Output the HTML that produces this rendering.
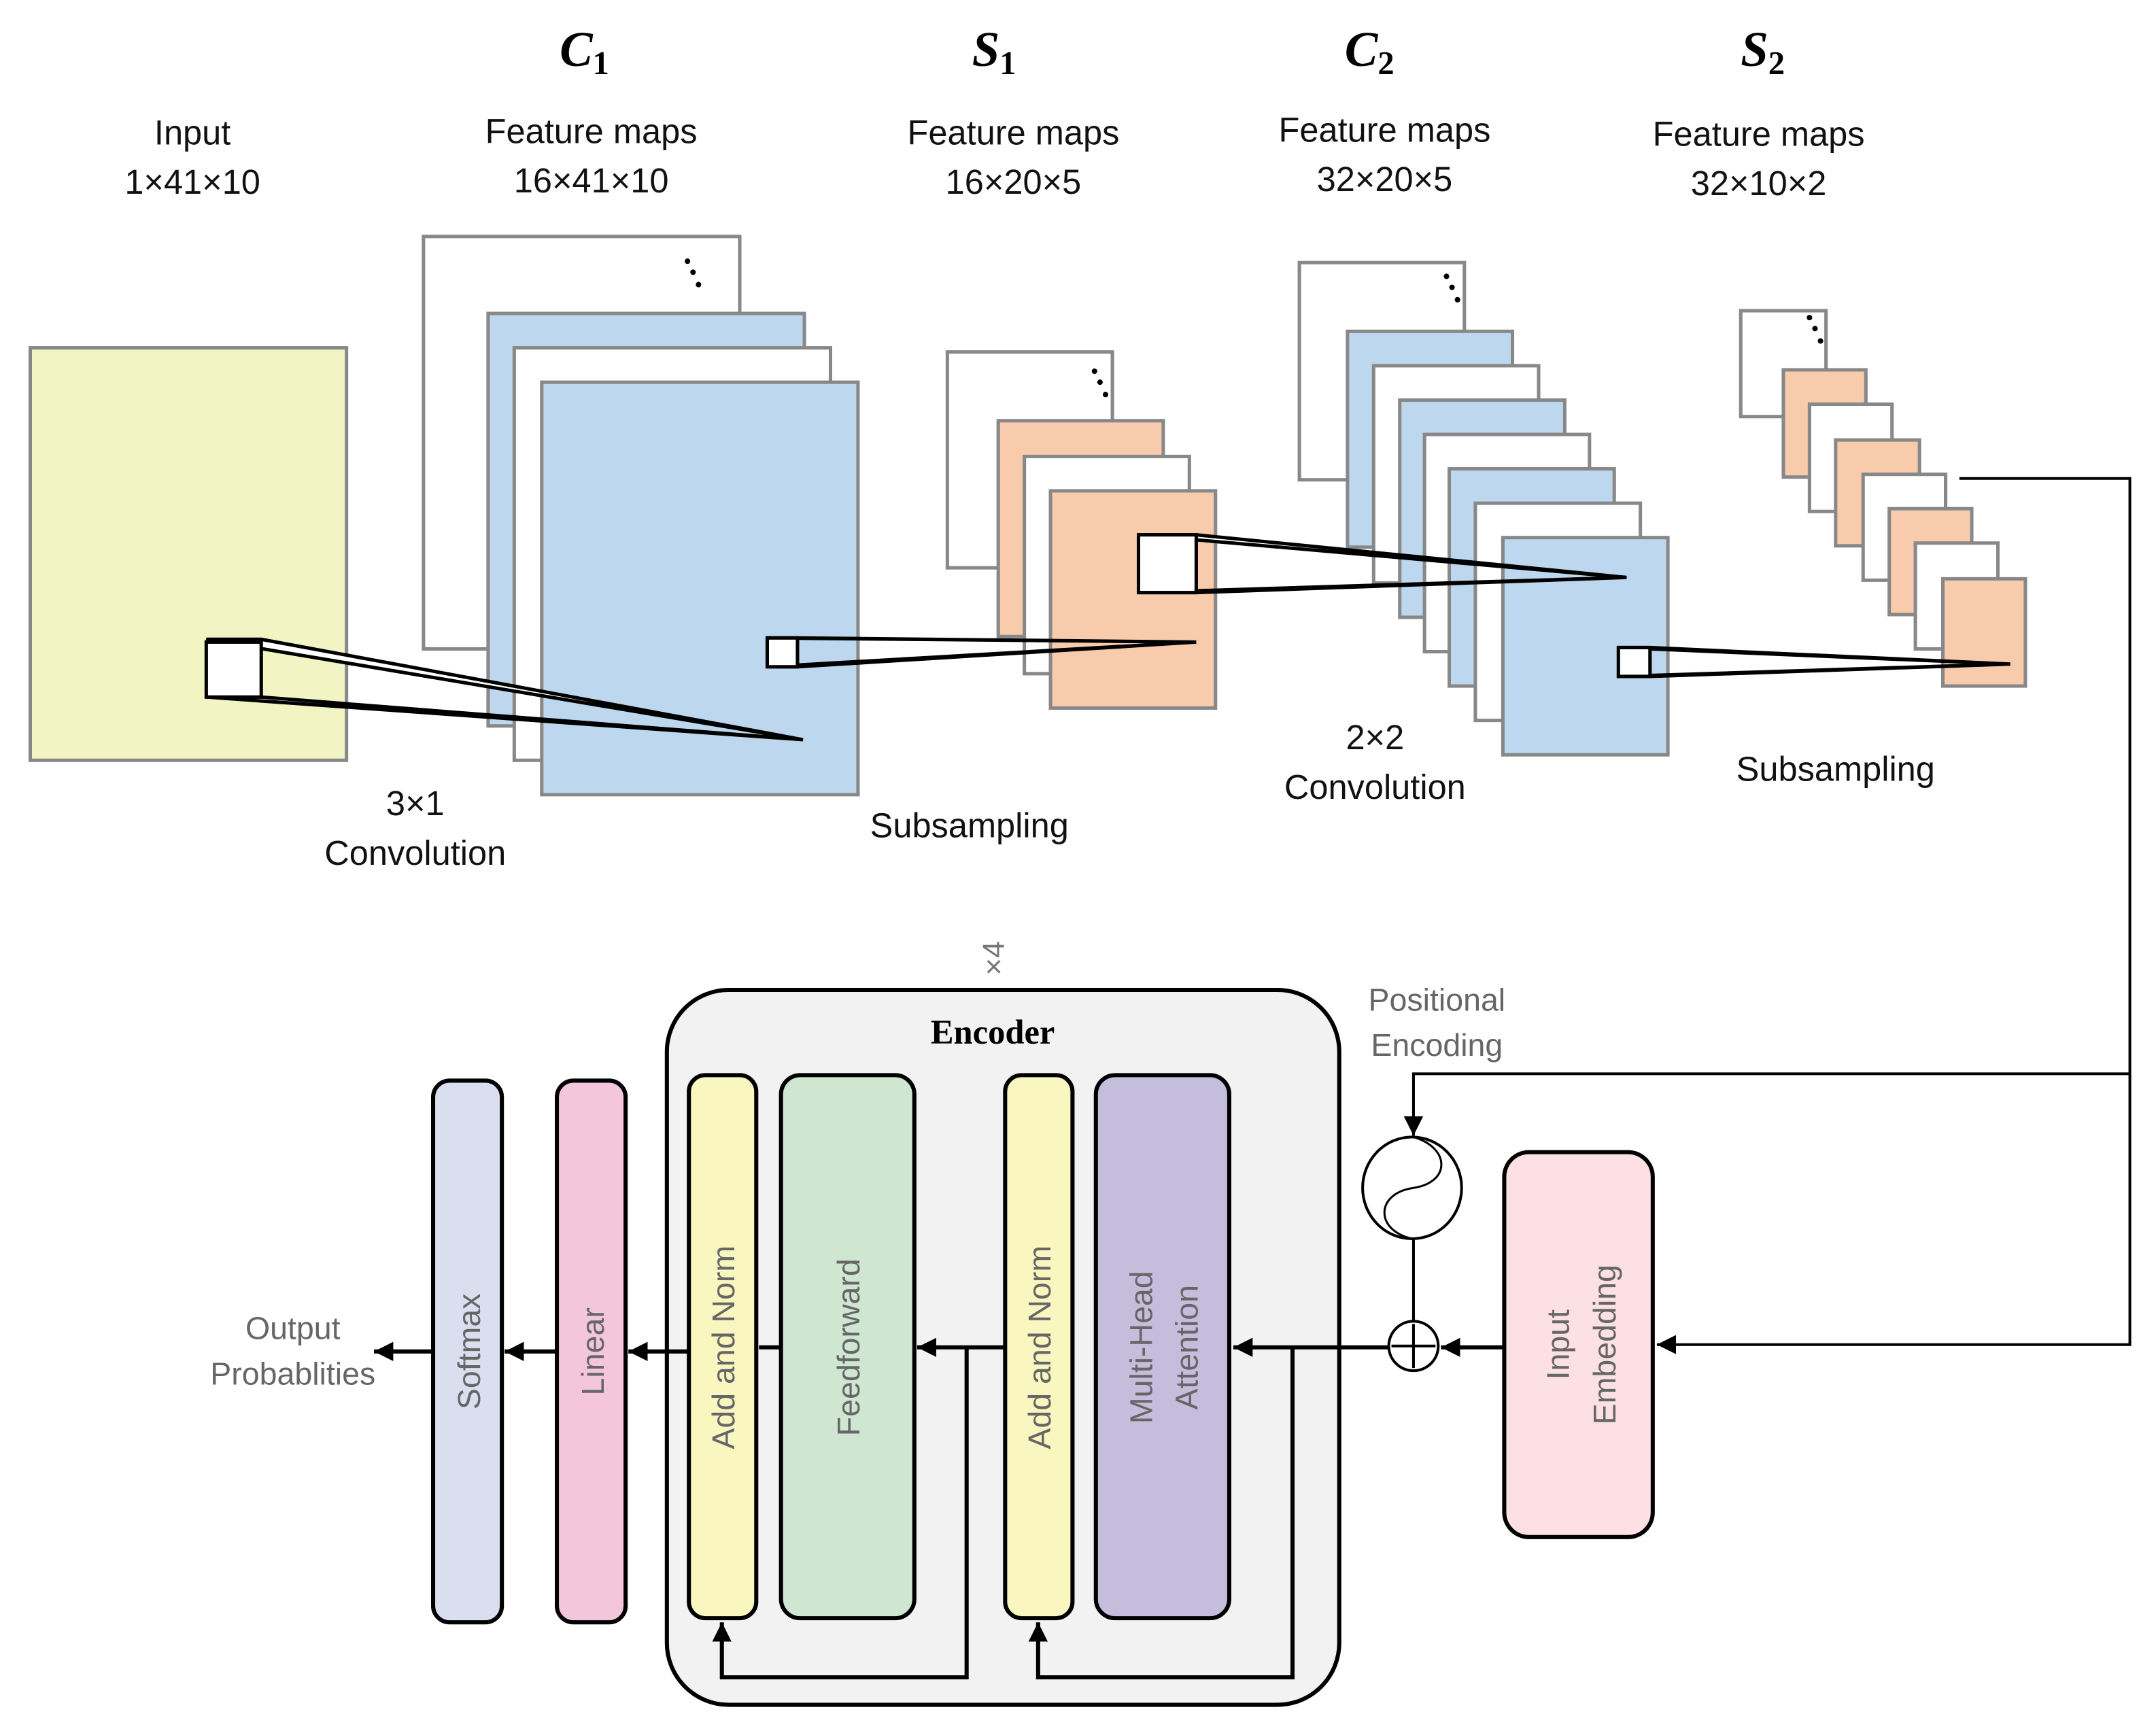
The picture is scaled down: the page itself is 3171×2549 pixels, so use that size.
<!DOCTYPE html>
<html><head><meta charset="utf-8"><style>html,body{margin:0;padding:0;background:#fff}svg{display:block}</style></head>
<body>
<svg width="3171" height="2549" viewBox="0 0 1568 1260.5" preserveAspectRatio="none" xmlns="http://www.w3.org/2000/svg" font-family="Liberation Sans, sans-serif">
<defs>
<marker id="b" viewBox="0 0 10 10" markerWidth="14" markerHeight="14" refX="10" refY="5" orient="auto" markerUnits="userSpaceOnUse"><path d="M0,0 L10,5 L0,10 z" fill="#000"/></marker></defs>
<g stroke="#888" stroke-width="2.5">
<rect x="22" y="253" width="230" height="300" fill="#f2f4c4"/>
<rect x="308" y="172" width="230" height="300" fill="#fff"/>
<rect x="355" y="228" width="230" height="300" fill="#bdd7ee"/>
<rect x="374" y="253" width="230" height="300" fill="#fff"/>
<rect x="394" y="278" width="230" height="300" fill="#bdd7ee"/>
<rect x="689" y="256" width="120" height="157" fill="#fff"/>
<rect x="726" y="306" width="120" height="157" fill="#f8cbad"/>
<rect x="745" y="332" width="120" height="158" fill="#fff"/>
<rect x="764" y="357" width="120" height="158" fill="#f8cbad"/>
<rect x="945" y="191" width="120" height="158" fill="#fff"/>
<rect x="980" y="241" width="120" height="157" fill="#bdd7ee"/>
<rect x="999" y="266" width="120" height="158" fill="#fff"/>
<rect x="1018" y="291" width="120" height="158" fill="#bdd7ee"/>
<rect x="1036" y="316" width="120" height="158" fill="#fff"/>
<rect x="1054" y="341" width="120" height="158" fill="#bdd7ee"/>
<rect x="1073" y="366" width="120" height="158" fill="#fff"/>
<rect x="1093" y="391" width="120" height="158" fill="#bdd7ee"/>
<rect x="1266" y="226" width="62" height="77" fill="#fff"/>
<rect x="1297" y="269" width="60" height="78" fill="#f8cbad"/>
<rect x="1316" y="294" width="60" height="78" fill="#fff"/>
<rect x="1335" y="320" width="61" height="77" fill="#f8cbad"/>
<rect x="1355" y="345" width="60" height="77" fill="#fff"/>
<rect x="1374" y="370" width="60" height="77" fill="#f8cbad"/>
<rect x="1393" y="395" width="60" height="77" fill="#fff"/>
<rect x="1413" y="421" width="60" height="78" fill="#f8cbad"/>
</g>
<g fill="#000"><circle cx="500" cy="190" r="2"/><circle cx="504" cy="198" r="2"/><circle cx="508" cy="207" r="2"/>
<circle cx="796" cy="270" r="2"/><circle cx="800" cy="278" r="2"/><circle cx="804" cy="287" r="2"/>
<circle cx="1052" cy="201" r="2"/><circle cx="1056" cy="209" r="2"/><circle cx="1060" cy="218" r="2"/>
<circle cx="1316" cy="231" r="2"/><circle cx="1320" cy="239" r="2"/><circle cx="1324" cy="248" r="2"/></g>
<g stroke="#000" stroke-width="2.5" fill="#fff">
<path d="M150,465 L190,465 L584,538 Z M150,507 L190,507 L584,538 Z"/>
<rect x="150" y="467" width="40" height="40"/>
<path d="M558,464 L580,464 L870,467 Z M558,485 L580,485 L870,467 Z"/>
<rect x="558" y="464" width="22" height="21"/>
<path d="M828,389 L870,389 L1183,420 Z M828,431 L870,431 L1183,420 Z"/>
<rect x="828" y="389" width="42" height="42"/>
<path d="M1177,471 L1200,471 L1462,483 Z M1177,492 L1200,492 L1462,483 Z"/>
<rect x="1177" y="471" width="23" height="21"/>
</g>
<g font-family="Liberation Serif, serif" font-weight="bold" font-style="italic" font-size="36" text-anchor="middle">
<text x="425" y="48">C<tspan font-size="24" dy="6" font-style="normal">1</tspan></text>
<text x="723" y="48">S<tspan font-size="24" dy="6" font-style="normal">1</tspan></text>
<text x="996" y="48">C<tspan font-size="24" dy="6" font-style="normal">2</tspan></text>
<text x="1282" y="48">S<tspan font-size="24" dy="6" font-style="normal">2</tspan></text>
</g>
<g font-size="25" text-anchor="middle" fill="#111">
<text x="140" y="105">Input</text><text x="140" y="141">1×41×10</text>
<text x="430" y="104">Feature maps</text><text x="430" y="140">16×41×10</text>
<text x="737" y="105">Feature maps</text><text x="737" y="141">16×20×5</text>
<text x="1007" y="103">Feature maps</text><text x="1007" y="139">32×20×5</text>
<text x="1279" y="106">Feature maps</text><text x="1279" y="142">32×10×2</text>
<text x="302" y="593">3×1</text><text x="302" y="629">Convolution</text>
<text x="705" y="609">Subsampling</text>
<text x="1000" y="545">2×2</text><text x="1000" y="581">Convolution</text>
<text x="1335" y="568">Subsampling</text>
</g>
<rect x="485" y="720" width="489" height="520" rx="45" fill="#f2f2f2" stroke="#000" stroke-width="3"/>
<text x="722" y="759" font-family="Liberation Serif, serif" font-weight="bold" font-size="25" text-anchor="middle">Encoder</text>
<text transform="translate(730,697) rotate(-90)" font-size="22" fill="#777" text-anchor="middle">×4</text>
<g stroke="#000" stroke-width="3">
<rect x="315" y="786" width="50" height="394" rx="12" fill="#dadff0"/>
<rect x="405" y="786" width="50" height="394" rx="12" fill="#f4c6dd"/>
<rect x="501" y="782" width="49" height="395" rx="12" fill="#f9f6c0"/>
<rect x="568" y="782" width="97" height="395" rx="14" fill="#cfe6d0"/>
<rect x="731" y="782" width="49" height="395" rx="12" fill="#f9f6c0"/>
<rect x="797" y="782" width="97" height="395" rx="14" fill="#c5bddc"/>
<rect x="1094" y="838" width="108" height="280" rx="18" fill="#fce0e4"/>
</g>
<g font-size="23" fill="#666" text-anchor="middle">
<text transform="translate(349,983) rotate(-90)">Softmax</text>
<text transform="translate(439,983) rotate(-90)">Linear</text>
<text transform="translate(534,980) rotate(-90)">Add and Norm</text>
<text transform="translate(625,980) rotate(-90)">Feedforward</text>
<text transform="translate(764,980) rotate(-90)">Add and Norm</text>
<text transform="translate(838,980) rotate(-90)">Multi-Head</text>
<text transform="translate(871,980) rotate(-90)">Attention</text>
<text transform="translate(1141,978) rotate(-90)">Input</text>
<text transform="translate(1175,978) rotate(-90)">Embedding</text>
<text x="213" y="974">Output</text><text x="213" y="1007">Probablities</text>
<text x="1045" y="735">Positional</text><text x="1045" y="768">Encoding</text>
</g>
<g stroke="#000" stroke-width="2" fill="none">
<polyline points="1425,348 1549,348 1549,978 1205,978" marker-end="url(#b)"/>
<polyline points="1549,781 1028,781 1028,826" marker-end="url(#b)"/>
<line x1="1028" y1="901" x2="1028" y2="961"/>
<ellipse cx="1027" cy="864" rx="36" ry="37"/>
<path d="M1028,827 C1055,835 1055,860 1028,864 C1000,868 1000,895 1027,901" stroke-width="1.5"/>
<circle cx="1028" cy="979" r="18"/>
<line x1="1028" y1="963" x2="1028" y2="995"/><line x1="1012" y1="979" x2="1044" y2="979"/>
</g>
<g stroke="#000" stroke-width="3" fill="none">
<line x1="1094" y1="980" x2="1048" y2="980" marker-end="url(#b)"/>
<line x1="1010" y1="980" x2="897" y2="980" marker-end="url(#b)"/>
<polyline points="940,980 940,1220 755,1220 755,1180" marker-end="url(#b)"/>
<line x1="731" y1="980" x2="667" y2="980" marker-end="url(#b)"/>
<polyline points="703,980 703,1220 525,1220 525,1180" marker-end="url(#b)"/>
<line x1="568" y1="980" x2="552" y2="980"/>
<line x1="501" y1="983" x2="457" y2="983" marker-end="url(#b)"/>
<line x1="405" y1="983" x2="367" y2="983" marker-end="url(#b)"/>
<line x1="315" y1="983" x2="272" y2="983" marker-end="url(#b)"/>
</g>
</svg>
</body></html>
